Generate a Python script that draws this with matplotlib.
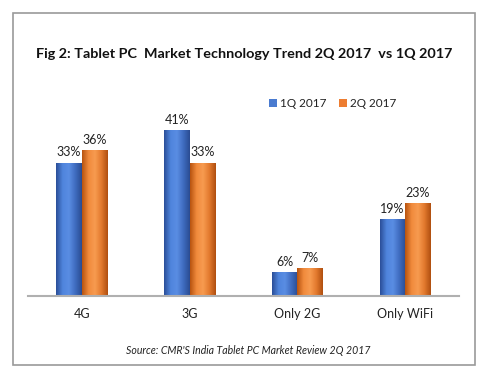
import numpy as np
from matplotlib import pyplot as plt
from matplotlib.colors import LinearSegmentedColormap
from matplotlib.patches import Rectangle

# Chart data
categories = ["4G", "3G", "Only 2G", "Only WiFi"]
q1_2017 = [33, 41, 6, 19]
q2_2017 = [36, 33, 7, 23]
series_names = ["1Q 2017", "2Q 2017"]

plt.rcParams['font.family'] = ['Lato', 'DejaVu Sans']

fig = plt.figure(figsize=(4.88, 3.8), dpi=100)
fig.patch.set_facecolor('white')

# outer frame
fig.patches.append(Rectangle((13 / 488, 1 - 365 / 380), 462 / 488, 352 / 380,
                             transform=fig.transFigure, fill=False,
                             edgecolor='#9a9a9a', linewidth=1.2))

ax = fig.add_axes([28 / 488, 84 / 380, 431 / 488, 182 / 380])
ax.set_xlim(-0.5, 3.5)
ax.set_ylim(0, 45)

x = np.arange(len(categories))
w = 0.237

blue_cmap = LinearSegmentedColormap.from_list('b', ['#2b4f99', '#4f84dc', '#5a8de3', '#3f6cc0', '#2a4c92'])
orange_cmap = LinearSegmentedColormap.from_list('o', ['#b85410', '#f08a3c', '#f79b50', '#e37a2e', '#b04f10'])
grad = np.linspace(0, 1, 64).reshape(1, -1)

for vals, offset, cmap, color, name in [(q1_2017, -w / 2, blue_cmap, '#4a7bd0', series_names[0]),
                                        (q2_2017, w / 2, orange_cmap, '#ed7d31', series_names[1])]:
    bars = ax.bar(x + offset, vals, width=w, color=color, label=name, linewidth=0)
    for bar, v in zip(bars, vals):
        x0, y0 = bar.get_x(), bar.get_y()
        bw, bh = bar.get_width(), bar.get_height()
        im = ax.imshow(grad, cmap=cmap, aspect='auto', extent=(x0, x0 + bw, y0, y0 + bh), zorder=2)
        im.set_clip_path(bar)
        ax.text(x0 + bw / 2, bh + 1.0, f'{v}%', ha='center', va='bottom', fontsize=9, color='#222222')

ax.set_xlim(-0.5, 3.5)
ax.set_ylim(0, 45)

for s in ['top', 'right', 'left']:
    ax.spines[s].set_visible(False)
ax.spines['bottom'].set_color('#b0b0b0')
ax.spines['bottom'].set_linewidth(1.5)
ax.set_yticks([])
ax.set_xticks(x)
ax.set_xticklabels(categories, fontsize=9, color='#222222')
ax.tick_params(axis='x', length=0, pad=9)

ax.legend(loc='upper left', bbox_to_anchor=(0.535, 1.145), ncol=2, frameon=False,
          fontsize=8.5, handlelength=0.7, handleheight=0.7, handletextpad=0.25,
          columnspacing=1.0, labelcolor='#222222')

fig.text(0.5, 1 - 54 / 380, "Fig 2: Tablet PC  Market Technology Trend 2Q 2017  vs 1Q 2017",
         ha='center', va='center', fontsize=10.4, fontweight='bold', color='#111111')
fig.text(0.508, 1 - 351 / 380, "Source: CMR'S India Tablet PC Market Review 2Q 2017",
         ha='center', va='center', fontsize=7.6, style='italic', color='#222222')

fig.savefig('out.png', dpi=100)
